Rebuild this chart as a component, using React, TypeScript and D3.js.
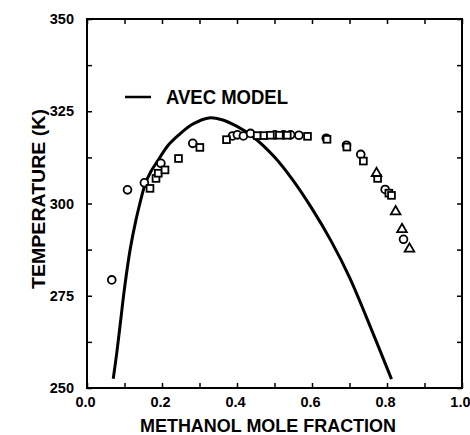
import React, { useEffect, useRef } from 'react';
import * as d3 from 'd3';

// AVEC model curve (methanol mole fraction vs temperature K)
const curveX = [0.07, 0.08, 0.09, 0.1, 0.115, 0.13, 0.141, 0.155, 0.17, 0.19, 0.215, 0.244, 0.28, 0.325, 0.36, 0.4, 0.44, 0.5, 0.55, 0.6, 0.65, 0.7, 0.76, 0.812];
const curveT = [252.5, 260, 268.5, 277, 287.5, 295.3, 300, 305.2, 308.6, 311.8, 315.6, 318.5, 321.4, 323.2, 322.7, 320.9, 318.3, 312.6, 306.2, 298.6, 290, 280, 265.5, 252.4];

// experimental points
const circleX = [0.066, 0.108, 0.153, 0.197, 0.282, 0.388, 0.401, 0.417, 0.436, 0.501, 0.524, 0.543, 0.565, 0.638, 0.692, 0.73, 0.795, 0.844];
const circleT = [279.3, 303.7, 305.6, 310.9, 316.3, 318.3, 318.6, 318.3, 319.0, 318.6, 318.6, 318.6, 318.5, 317.7, 315.8, 313.3, 303.8, 290.3];

const squareX = [0.168, 0.184, 0.19, 0.208, 0.244, 0.301, 0.372, 0.454, 0.472, 0.489, 0.513, 0.534, 0.588, 0.64, 0.693, 0.737, 0.775, 0.805, 0.812];
const squareT = [304.1, 306.8, 308.2, 309.1, 312.2, 315.2, 317.3, 318.4, 318.4, 318.5, 318.5, 318.5, 318.2, 317.4, 315.3, 311.5, 306.8, 302.8, 302.2];

const triangleX = [0.772, 0.823, 0.84, 0.86];
const triangleT = [308.2, 297.8, 293.0, 287.7];

const xTicks = [0, 0.1, 0.2, 0.3, 0.4, 0.5, 0.6, 0.7, 0.8, 0.9, 1.0];
const xLabels = ['0.0', '', '0.2', '', '0.4', '', '0.6', '', '0.8', '', '1.0'];
const yTicks = [250, 262.5, 275, 287.5, 300, 312.5, 325, 337.5, 350];
const yLabels = ['250', '', '275', '', '300', '', '325', '', '350'];

const FONT = '"Liberation Sans", Arial, sans-serif';

const App = () => {
  const svgRef = useRef<SVGSVGElement>(null);

  useEffect(() => {
    const svg = d3.select(svgRef.current);
    svg.selectAll('*').remove();

    const left = 87;
    const right = 462;
    const top = 19;
    const bottom = 388;

    const x = d3.scaleLinear().domain([0, 1]).range([left, right]);
    const y = d3.scaleLinear().domain([250, 350]).range([bottom, top]);

    svg.append('rect').attr('width', 470).attr('height', 435).attr('fill', 'white');

    const styleAxis = (g: any) => {
      g.select('.domain').remove();
      g.selectAll('line').attr('stroke', '#000').attr('stroke-width', 1.5);
      g.selectAll('text')
        .attr('font-family', FONT)
        .attr('font-weight', 'bold')
        .attr('font-size', 14.5)
        .attr('fill', '#000');
    };

    // axes with inward ticks
    const xAxisG = svg.append('g')
      .attr('transform', `translate(0,${bottom})`)
      .call(d3.axisBottom(x).tickValues(xTicks).tickSizeInner(-5).tickSizeOuter(0).tickPadding(9)
        .tickFormat((d, i) => xLabels[i]))
      .call(styleAxis);
    // labels sit a little left of their ticks, keep "1.0" inside the page
    xAxisG.selectAll('text').attr('dx', -2);
    xAxisG.selectAll('.tick:last-of-type text').attr('text-anchor', 'end').attr('dx', 8);

    svg.append('g')
      .attr('transform', `translate(0,${top})`)
      .call(d3.axisTop(x).tickValues(xTicks).tickSizeInner(-5).tickSizeOuter(0).tickFormat(() => ''))
      .call(styleAxis);
    svg.append('g')
      .attr('transform', `translate(${left},0)`)
      .call(d3.axisLeft(y).tickValues(yTicks).tickSizeInner(-5).tickSizeOuter(0).tickPadding(13)
        .tickFormat((d, i) => yLabels[i]))
      .call(styleAxis);
    svg.append('g')
      .attr('transform', `translate(${right},0)`)
      .call(d3.axisRight(y).tickValues(yTicks).tickSizeInner(-5).tickSizeOuter(0).tickFormat(() => ''))
      .call(styleAxis);

    // frame
    svg.append('rect')
      .attr('x', left)
      .attr('y', top)
      .attr('width', right - left)
      .attr('height', bottom - top)
      .attr('fill', 'none')
      .attr('stroke', '#000')
      .attr('stroke-width', 2);

    // model curve
    const line = d3.line<number>()
      .x((d) => x(d))
      .y((d, i) => y(curveT[i]))
      .curve(d3.curveCatmullRom);
    svg.append('path')
      .attr('d', line(curveX))
      .attr('fill', 'none')
      .attr('stroke', '#000')
      .attr('stroke-width', 3);

    // circles
    svg.append('g')
      .selectAll('circle')
      .data(circleX)
      .enter()
      .append('circle')
      .attr('cx', (d) => x(d))
      .attr('cy', (d, i) => y(circleT[i]))
      .attr('r', 3.9)
      .attr('fill', 'white')
      .attr('stroke', '#000')
      .attr('stroke-width', 1.8);

    // squares
    const s = 6.8;
    svg.append('g')
      .selectAll('rect')
      .data(squareX)
      .enter()
      .append('rect')
      .attr('x', (d) => x(d) - s / 2)
      .attr('y', (d, i) => y(squareT[i]) - s / 2)
      .attr('width', s)
      .attr('height', s)
      .attr('fill', 'white')
      .attr('stroke', '#000')
      .attr('stroke-width', 1.8);

    // triangles
    const tri = d3.symbol().type(d3.symbolTriangle).size(40);
    svg.append('g')
      .selectAll('path')
      .data(triangleX)
      .enter()
      .append('path')
      .attr('d', tri)
      .attr('transform', (d, i) => `translate(${x(d)},${y(triangleT[i])})`)
      .attr('fill', 'white')
      .attr('stroke', '#000')
      .attr('stroke-width', 1.8);

    // legend
    svg.append('line')
      .attr('x1', 125)
      .attr('x2', 151)
      .attr('y1', 97)
      .attr('y2', 97)
      .attr('stroke', '#000')
      .attr('stroke-width', 2.5);
    svg.append('text')
      .attr('x', 166)
      .attr('y', 104)
      .attr('font-family', FONT)
      .attr('font-weight', 'bold')
      .attr('font-size', 19.5)
      .attr('textLength', 122)
      .attr('lengthAdjust', 'spacingAndGlyphs')
      .text('AVEC MODEL');

    // axis titles
    svg.append('text')
      .attr('x', 268)
      .attr('y', 432)
      .attr('text-anchor', 'middle')
      .attr('font-family', FONT)
      .attr('font-weight', 'bold')
      .attr('font-size', 19)
      .attr('textLength', 256)
      .attr('lengthAdjust', 'spacingAndGlyphs')
      .text('METHANOL MOLE FRACTION');
    svg.append('text')
      .attr('transform', 'translate(45,199) rotate(-90)')
      .attr('text-anchor', 'middle')
      .attr('font-family', FONT)
      .attr('font-weight', 'bold')
      .attr('font-size', 19)
      .attr('textLength', 180)
      .attr('lengthAdjust', 'spacingAndGlyphs')
      .text('TEMPERATURE (K)');
  }, []);

  return (
    <div style={{ position: 'fixed', left: 0, top: 0 }}>
      <svg ref={svgRef} width={470} height={435}></svg>
    </div>
  );
};

export default App;
